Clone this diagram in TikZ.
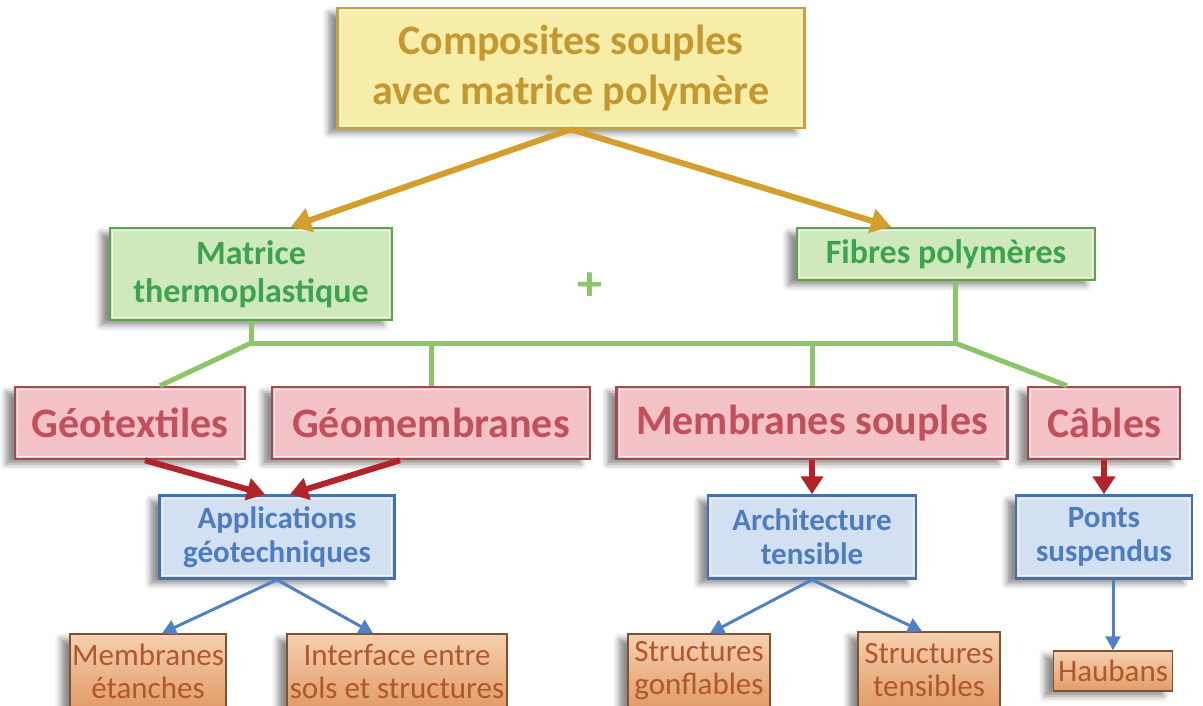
\documentclass[tikz,border=0pt]{standalone}
\usepackage{fontspec}
\setmainfont{Carlito}
\usetikzlibrary{arrows.meta,shadows.blur}
\definecolor{goldB}{HTML}{C9A03A}
\definecolor{goldT}{HTML}{C4972F}
\definecolor{goldF}{HTML}{F6EEA8}
\definecolor{goldL}{HTML}{FBF8DC}
\definecolor{goldA}{HTML}{D49E2C}
\definecolor{grnB}{HTML}{5FA250}
\definecolor{grnT}{HTML}{3CA44E}
\definecolor{grnF}{HTML}{CFE8BC}
\definecolor{grnL}{HTML}{F1F9EA}
\definecolor{grnA}{HTML}{8CC66A}
\definecolor{redB}{HTML}{A6494E}
\definecolor{redT}{HTML}{C24F5A}
\definecolor{redF}{HTML}{F2C2C6}
\definecolor{redL}{HTML}{FCEDEE}
\definecolor{redA}{HTML}{B0242A}
\definecolor{bluB}{HTML}{4571B0}
\definecolor{bluT}{HTML}{4B7DC0}
\definecolor{bluF}{HTML}{D3E0F2}
\definecolor{bluL}{HTML}{F3F7FC}
\definecolor{bluA}{HTML}{4E82C4}
\definecolor{orgB}{HTML}{7E5233}
\definecolor{orgT}{HTML}{B0582A}
\definecolor{orgF}{HTML}{E29C68}
\definecolor{orgL}{HTML}{F6D0B0}
\tikzset{
  box/.style={rectangle, align=center, inner sep=0pt, line width=2.5pt,
    blur shadow={shadow xshift=-9pt, shadow yshift=-5pt, shadow blur radius=6pt, shadow opacity=45}},
  goldbox/.style={box, draw=goldB, top color=goldF, middle color=goldL, bottom color=goldF, text=goldT,
    font=\bfseries\fontsize{42}{50}\selectfont},
  grnbox/.style={box, draw=grnB, top color=grnF, middle color=grnL, bottom color=grnF, text=grnT,
    font=\bfseries\fontsize{34}{38}\selectfont},
  redbox/.style={box, draw=redB, top color=redF, middle color=redL, bottom color=redF, text=redT,
    font=\bfseries\fontsize{42}{46}\selectfont},
  blubox/.style={box, draw=bluB, top color=bluF, middle color=bluL, bottom color=bluF, text=bluT,
    font=\bfseries\fontsize{31}{34}\selectfont},
  orgbox/.style={box, line width=1.5pt, draw=orgB, top color=orgL, bottom color=orgF, text=orgT,
    font=\fontsize{31}{33}\selectfont},
  bevelline/.style={white, opacity=0.75, line width=1.3pt},
  goldarrow/.style={goldA, line width=6pt, -{Triangle[length=20pt,width=24pt]}},
  grnline/.style={grnA, line width=5pt},
  redarrow/.style={redA, line width=6pt, -{Triangle[length=18pt,width=22pt]}},
  bluarrow/.style={bluA, line width=3pt, -{Triangle[length=14pt,width=15pt]}},
}
\begin{document}
\begin{tikzpicture}[x=1pt,y=-1pt]
\useasboundingbox (0,0) rectangle (1203,706);
\clip (0,0) rectangle (1203,706);
% top
\node[goldbox, minimum width=467pt, minimum height=120pt] (top) at (571,68) {Composites souples\\avec matrice polymère};
% green
\node[grnbox, minimum width=282pt, minimum height=92pt] (matrice) at (251,274) {Matrice\\thermoplastique};
\node[grnbox, minimum width=298pt, minimum height=52pt] (fibres) at (946,254) {Fibres polymères};
\node[text=grnA, font=\bfseries\fontsize{50}{50}\selectfont] (plus) at (590,287) {+};
% red
\node[redbox, minimum width=230pt, minimum height=72pt] (geotex) at (130,423) {Géotextiles};
\node[redbox, minimum width=318pt, minimum height=72pt] (geomem) at (431,423) {Géomembranes};
\node[redbox, minimum width=391pt, minimum height=72pt] (memsoup) at (812,423) {Membranes souples};
\node[redbox, minimum width=152pt, minimum height=72pt] (cables) at (1104,423) {Câbles};
% blue
\node[blubox, minimum width=235pt, minimum height=83pt] (appgeo) at (277,537) {Applications\\géotechniques};
\node[blubox, minimum width=208pt, minimum height=83pt] (archi) at (812,537) {Architecture\\tensible};
\node[blubox, minimum width=176pt, minimum height=83pt] (ponts) at (1104,537) {Ponts\\suspendus};
% orange
\node[orgbox, minimum width=156pt, minimum height=74pt] (memet) at (148,671) {Membranes\\étanches};
\node[orgbox, minimum width=220pt, minimum height=74pt] (interf) at (397,671) {Interface entre\\sols et structures};
\node[orgbox, minimum width=142pt, minimum height=74pt] (sgonf) at (699,671) {Structures\\gonflables};
\node[orgbox, minimum width=142pt, minimum height=76pt] (stens) at (929,670) {Structures\\tensibles};
\node[orgbox, minimum width=119pt, minimum height=40pt] (haub) at (1113,671) {Haubans};
% bevel highlights
\foreach \n in {top,matrice,fibres,geotex,geomem,memsoup,cables,appgeo,archi,ponts}
  \draw[bevelline] ([shift={(4pt,-4pt)}]\n.north west) rectangle ([shift={(-4pt,4pt)}]\n.south east);
% gold arrows
\draw[goldarrow] (top.south) -- ([xshift=40pt]matrice.north);
\draw[goldarrow] (top.south) -- ([xshift=-55pt]fibres.north);
% green lines
\coordinate (jl) at (251,343);
\coordinate (jr) at (955,343);
\draw[grnline] (matrice.south) -- (jl);
\draw[grnline] ([xshift=9pt]fibres.south) -- (jr);
\draw[grnline, line cap=round] (jl) -- (jr);
\draw[grnline] (jl) -- ([xshift=30pt]geotex.north);
\draw[grnline] (geomem.north |- jl) -- (geomem.north);
\draw[grnline] (memsoup.north |- jl) -- (memsoup.north);
\draw[grnline] (jr) -- ([xshift=-37pt]cables.north);
% red arrows
\draw[redarrow] ([xshift=15pt]geotex.south) -- ([xshift=-12pt]appgeo.north);
\draw[redarrow] ([xshift=-31pt]geomem.south) -- ([xshift=13pt]appgeo.north);
\draw[redarrow] (memsoup.south) -- (archi.north);
\draw[redarrow] (cables.south) -- (ponts.north);
% blue arrows
\draw[bluarrow] (appgeo.south) -- ([xshift=14pt]memet.north);
\draw[bluarrow] (appgeo.south) -- ([xshift=-24pt]interf.north);
\draw[bluarrow] (archi.south) -- ([xshift=11pt]sgonf.north);
\draw[bluarrow] (archi.south) -- ([xshift=-7pt]stens.north);
\draw[bluarrow] (ponts.south -| haub.north) -- (haub.north);
\end{tikzpicture}
\end{document}
